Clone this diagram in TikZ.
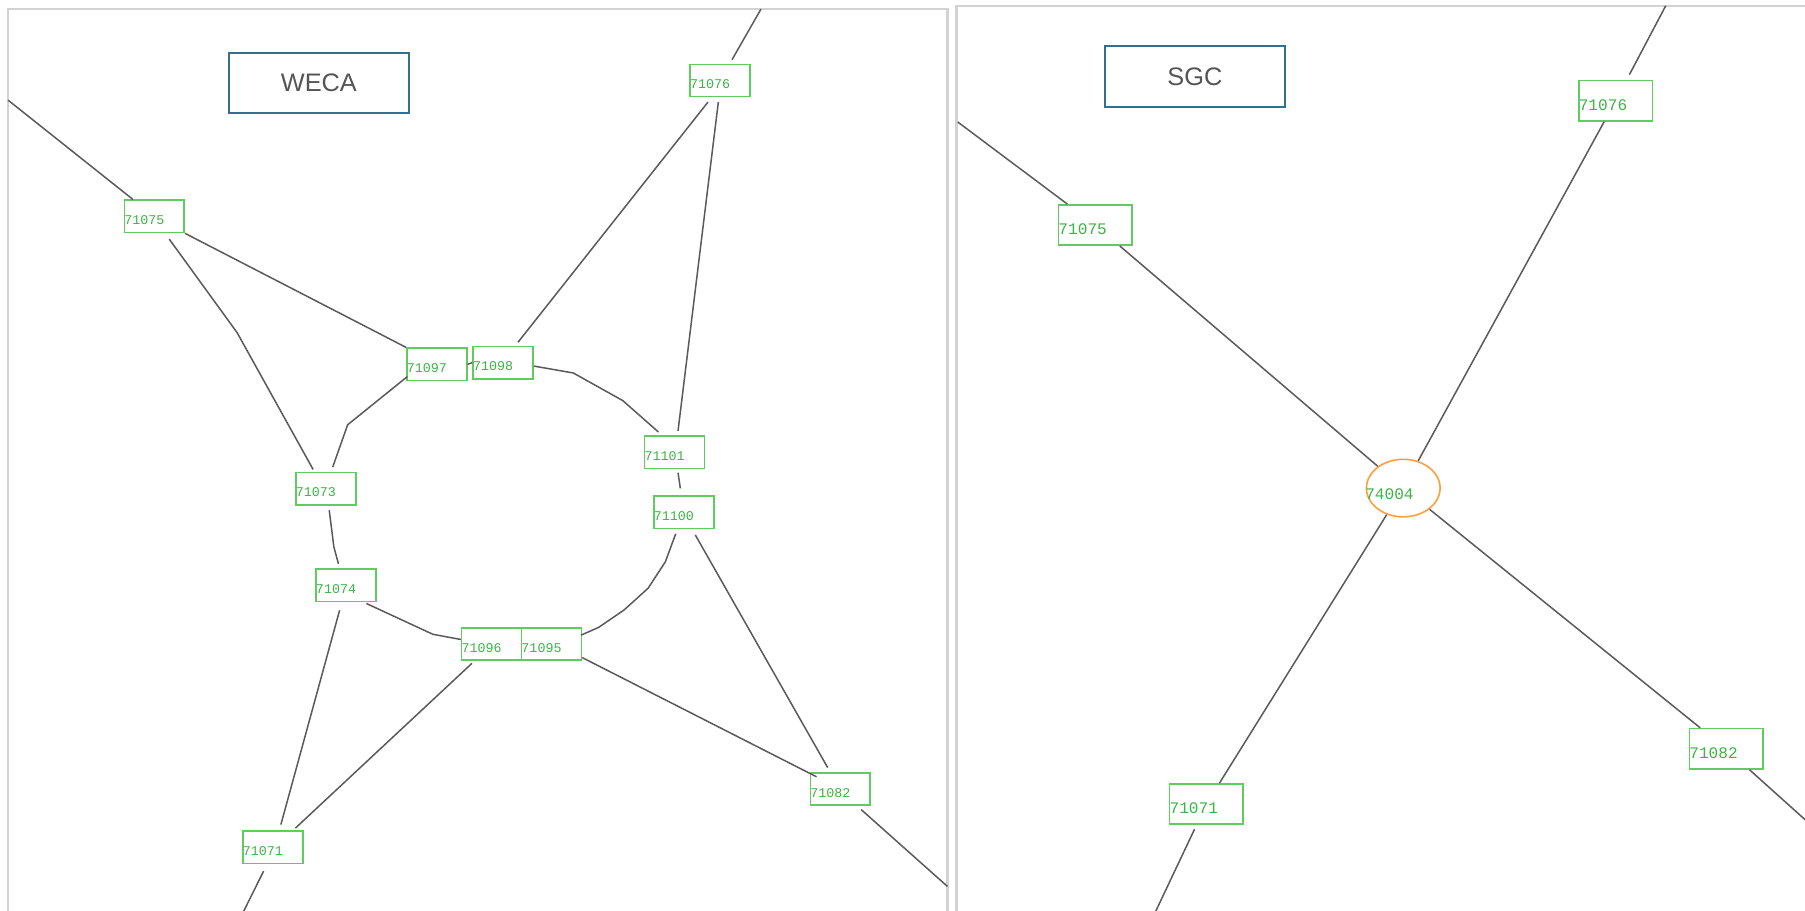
\documentclass[tikz,border=0pt]{standalone}
\usepackage{fontspec}
\setmainfont{Liberation Sans}
\newfontfamily\monofnt{Liberation Mono}
\usetikzlibrary{calc,shapes.geometric}
\definecolor{edgegray}{RGB}{90,90,90}
\definecolor{framegray}{RGB}{210,210,210}
\definecolor{titleblue}{RGB}{49,112,143}
\definecolor{titletext}{RGB}{85,85,85}
\definecolor{boxgreen}{RGB}{96,204,96}
\definecolor{idgreen}{RGB}{60,180,70}
\definecolor{huborange}{RGB}{255,160,64}
\newcommand\sid[1]{\makebox[26pt][l]{#1}}
\newcommand\bid[1]{\makebox[32pt][l]{#1}}
\begin{document}
\begin{tikzpicture}[x=0.5pt,y=-0.5pt,
  panel/.style={draw=framegray,line width=1pt},
  titlebox/.style={draw=titleblue,line width=1pt,minimum width=78pt,minimum height=26pt,inner sep=0pt,text=titletext,font=\fontsize{11}{13}\selectfont},
  sbox/.style={draw=boxgreen,line width=0.7pt,minimum width=26pt,minimum height=14pt,inner sep=0pt,text=idgreen,font=\monofnt\fontsize{5.8}{6}\selectfont,text height=7.1pt,text depth=0pt},
  bbox/.style={draw=boxgreen,line width=0.7pt,minimum width=32pt,minimum height=17.5pt,inner sep=0pt,text=idgreen,font=\monofnt\fontsize{7}{8}\selectfont,text height=8.4pt,text depth=0pt},
  hub/.style={ellipse,draw=huborange,line width=0.7pt,minimum width=32pt,minimum height=25pt,inner sep=0pt,text=idgreen,font=\monofnt\fontsize{7}{8}\selectfont,text height=10pt,text depth=0pt},
  link/.style={draw=edgegray,line width=0.65pt}]
\useasboundingbox (0,0) rectangle (1568,791);
\clip (0,0) rectangle (1568,791);
\fill[white] (0,0) rectangle (1568,791);

% panel frames
\draw[panel] (823,900) -- (823,8) -- (7,8) -- (7,900);
\draw[panel] (831,900) -- (831,5) -- (1700,5);

% ---------- left panel: WECA ----------
\node[titlebox] (weca) at (277,72) {WECA};
\node[sbox] (n76) at (625.5,70) {\sid{71076}};
\node[sbox] (n75) at (134,188) {\sid{71075}};
\node[sbox] (n97) at (379.5,316.5) {\sid{71097}};
\node[sbox] (n98) at (437,315) {\sid{71098}};
\node[sbox] (n101) at (586,393) {\sid{71101}};
\node[sbox] (n73) at (283,424.5) {\sid{71073}};
\node[sbox] (n100) at (594,445) {\sid{71100}};
\node[sbox] (n74) at (300.5,508.5) {\sid{71074}};
\node[sbox] (n96) at (427,559.5) {\sid{71096}};
\node[sbox] (n95) at (479,559.5) {\sid{71095}};
\node[sbox] (n82) at (730,685.5) {\sid{71082}};
\node[sbox] (n71) at (237,736) {\sid{71071}};

\coordinate (c1) at (7,87);
\coordinate (c2) at (661,8);
\coordinate (c3) at (823,770);
\coordinate (c4) at (210,795);

\draw[link] (c1) -- (n75);
\draw[link] (n75.south east) -- (n97.north west);
\draw[link] ($(n75.south)+(13,5)$) -- (206,289) -- ($(n73.north)+(-11,-2)$);
\draw[link,shorten >=2pt] (c2) -- (n76);
\draw[link] ($(n76.south)+(-10.5,4)$) -- ($(n98.north)+(13,-3)$);
\draw[link] ($(n76.south)+(-1.5,4)$) -- ($(n101.north)+(3,-4)$);
\draw[link] ($(n97.south west)+(1,-4)$) -- (302,369) -- ($(n73.north)+(6,-4)$);
\draw[link] (n97.east) -- (n98.west);
\draw[link] ($(n98.east)+(0,3)$) -- (498,324) -- (541,348) -- ($(n101.north)+(-14,-3)$);
\draw[link] ($(n101.south)+(3,3)$) -- ($(n100.north)+(-3,-6)$);
\draw[link] ($(n73.south)+(3,4)$) -- (290,475) -- ($(n74.north)+(-6.5,-4)$);
\draw[link] ($(n74.south east)+(-9,1)$) -- (376,551) -- ($(n96.west)+(0,-4)$);
\draw[link] ($(n100.south)+(-7,4)$) -- (578,488) -- (563,511) -- (542,530) -- (520,545) -- ($(n95.north east)+(-1,7)$);
\draw[link] ($(n100.south)+(10,5)$) -- ($(n82.north)+(-11,-4)$);
\draw[link] ($(n74.south)+(-5.5,7)$) -- ($(n71.north)+(7,-5)$);
\draw[link] ($(n96.south)+(-17,2)$) -- ($(n71.north east)+(-7,-2)$);
\draw[link] ($(n95.south east)+(0,-3)$) -- ($(n82.north west)+(6,4)$);
\draw[link] ($(n82.south)+(18,3)$) -- (c3);
\draw[link] ($(n71.south)+(-8,6)$) -- (c4);

% ---------- right panel: SGC ----------
\node[titlebox,minimum height=26.5pt] (sgc) at (1038,66.5) {SGC};
\node[bbox] (r76) at (1403.5,87.5) {\bid{71076}};
\node[bbox] (r75) at (951.5,195.5) {\bid{71075}};
\node[bbox] (r82) at (1499.5,650.5) {\bid{71082}};
\node[bbox] (r71) at (1048,698.5) {\bid{71071}};
\node[hub] (hub) at (1219,424) {\makebox[0pt][l]{\hspace*{-16.5pt}74004}};

\coordinate (c5) at (832,106);
\coordinate (c6) at (1447,5);
\coordinate (c7) at (1600,740.7);
\coordinate (c8) at (1000,800);

\draw[link] (c5) -- (r75);
\draw[link] (r75) -- (hub);
\draw[link,shorten >=2.5pt] (c6) -- (r76);
\draw[link] (r76) -- (hub);
\draw[link] (hub) -- (r71);
\draw[link] (hub) -- (r82);
\draw[link] (r82) -- (c7);
\draw[link,shorten <=2pt] (r71) -- (c8);
\end{tikzpicture}
\end{document}
